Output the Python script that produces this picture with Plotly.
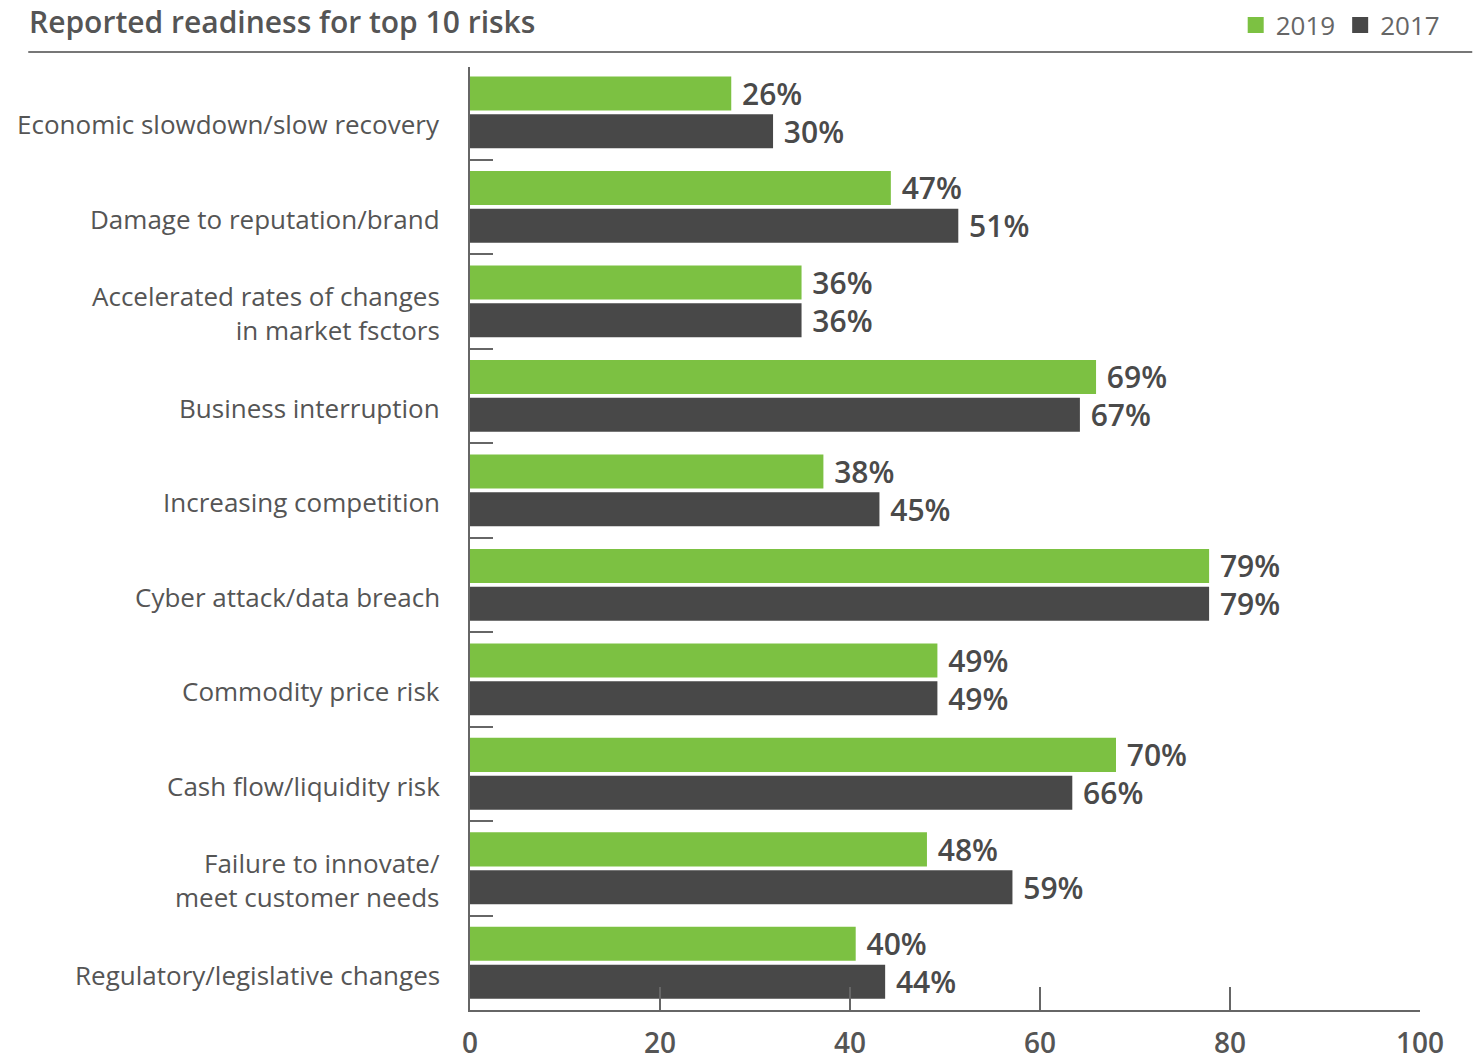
import plotly.graph_objects as go

# ---- data ----
risks = [
    "Economic slowdown/slow recovery",
    "Damage to reputation/brand",
    "Accelerated rates of changes<br>in market fsctors",
    "Business interruption",
    "Increasing competition",
    "Cyber attack/data breach",
    "Commodity price risk",
    "Cash flow/liquidity risk",
    "Failure to innovate/<br>meet customer needs",
    "Regulatory/legislative changes",
]
series_names = ["2019", "2017"]
# bar lengths as drawn in the picture (read against the 0-100 axis)
bars_2019 = [27.5, 44.3, 34.9, 65.9, 37.2, 77.8, 49.2, 68.0, 48.1, 40.6]
bars_2017 = [31.9, 51.4, 34.9, 64.2, 43.1, 77.8, 49.2, 63.4, 57.1, 43.7]
# printed value labels
labels_2019 = [26, 47, 36, 69, 38, 79, 49, 70, 48, 40]
labels_2017 = [30, 51, 36, 67, 45, 79, 49, 66, 59, 44]
x_ticks = [0, 20, 40, 60, 80, 100]

GREEN = "#7cc142"
DARK = "#484848"
TEXT = "#555555"
FONT = "Open Sans"

fig = go.Figure()
for name, vals, labs, col in [
    (series_names[0], bars_2019, labels_2019, GREEN),
    (series_names[1], bars_2017, labels_2017, DARK),
]:
    fig.add_trace(go.Bar(
        name=name, y=risks, x=vals, orientation="h",
        marker=dict(color=col, line=dict(width=0)),
        text=[f"{v}%" for v in labs],
        texttemplate=" %{text}",
        textposition="outside",
        constraintext="none",
        cliponaxis=False,
        textfont=dict(family=FONT, size=30, color="#4a4a4a", weight=600),
        hoverinfo="skip",
        showlegend=False,
        legendgroup=name,
    ))
# legend entries with larger square swatches
for name, col in zip(series_names, [GREEN, DARK]):
    fig.add_trace(go.Scatter(
        x=[None], y=[None], mode="markers", name=name, legendgroup=name,
        marker=dict(symbol="square", size=28, color=col), hoverinfo="skip",
    ))

annotations = [
    dict(x=0, xref="paper", y=r, yref="y", text=r, showarrow=False,
         xanchor="right", yanchor="middle", align="right", xshift=-28, yshift=-12,
         font=dict(family=FONT, size=26, color=TEXT))
    for r in risks
]

fig.update_layout(
    width=1476, height=1060,
    margin=dict(l=470, r=56, t=67, b=50, autoexpand=False),
    paper_bgcolor="white", plot_bgcolor="white",
    barmode="group", bargap=0.2, bargroupgap=0.1,
    title=dict(text="Reported readiness for top 10 risks", x=29 / 1476, xanchor="left",
               y=1 - 22 / 1060, yanchor="middle", xref="container", yref="container",
               font=dict(family=FONT, size=30, color=TEXT, weight=600)),
    legend=dict(orientation="h", x=1.026, xanchor="right", y=1.0445, yanchor="middle",
                font=dict(family=FONT, size=26, color="#666666"), traceorder="normal",
                itemsizing="trace", itemwidth=30, bgcolor="rgba(0,0,0,0)"),
    annotations=annotations,
    font=dict(family=FONT, color=TEXT),
    shapes=[dict(type="line", xref="paper", yref="paper", x0=-0.465, x1=1.055,
                 y0=1.016, y1=1.016, line=dict(color="#777777", width=2))],
)
fig.update_xaxes(range=[0, 100], tickvals=x_ticks, ticks="inside", ticklen=23,
                 tickwidth=2, tickcolor="#666666", showline=True, linecolor="#666666",
                 linewidth=2, showgrid=False, zeroline=False, ticklabelstandoff=7,
                 tickfont=dict(family=FONT, size=28, color=TEXT, weight=600))
fig.update_yaxes(type="category", categoryorder="array", categoryarray=risks,
                 range=[9.5, -0.48], tickson="boundaries", ticks="inside", ticklen=23,
                 tickwidth=2, tickcolor="#666666", showline=True, linecolor="#666666",
                 linewidth=2, showgrid=False, zeroline=False, showticklabels=False)

fig.write_html("out.html", config={"displayModeBar": False},
               post_script="document.body.style.margin='0';document.body.style.overflow='hidden';")
